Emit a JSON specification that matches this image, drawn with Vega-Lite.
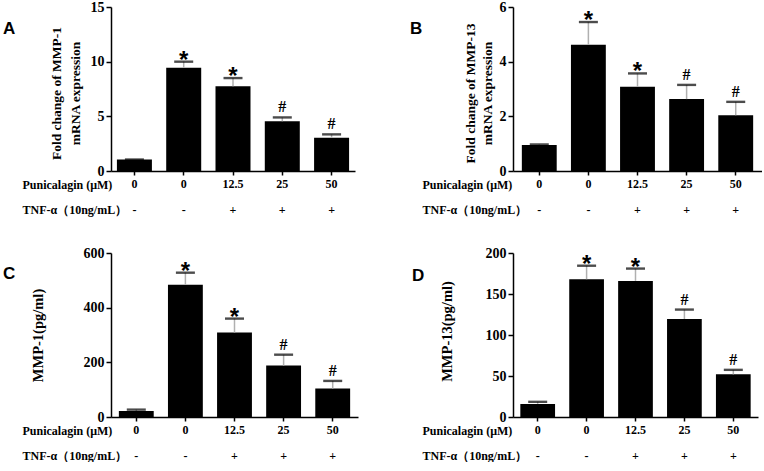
{
  "$schema": "https://vega.github.io/schema/vega-lite/v6.json",
  "background": "white",
  "padding": {"left": 3, "top": 0, "right": 0, "bottom": 0},
  "data": {"values": [
    {"panel": "A", "cond": "1|0|-", "value": 1.05, "hi": 1.05, "sig": ""},
    {"panel": "A", "cond": "2|0|-", "value": 9.45, "hi": 10.0, "sig": "*"},
    {"panel": "A", "cond": "3|12.5|+", "value": 7.75, "hi": 8.5, "sig": "*"},
    {"panel": "A", "cond": "4|25|+", "value": 4.55, "hi": 4.9, "sig": "#"},
    {"panel": "A", "cond": "5|50|+", "value": 3.05, "hi": 3.35, "sig": "#"},
    {"panel": "B", "cond": "1|0|-", "value": 0.95, "hi": 0.97, "sig": ""},
    {"panel": "B", "cond": "2|0|-", "value": 4.62, "hi": 5.45, "sig": "*"},
    {"panel": "B", "cond": "3|12.5|+", "value": 3.08, "hi": 3.57, "sig": "*"},
    {"panel": "B", "cond": "4|25|+", "value": 2.63, "hi": 3.15, "sig": "#"},
    {"panel": "B", "cond": "5|50|+", "value": 2.04, "hi": 2.53, "sig": "#"},
    {"panel": "C", "cond": "1|0|-", "value": 22, "hi": 27, "sig": ""},
    {"panel": "C", "cond": "2|0|-", "value": 484, "hi": 528, "sig": "*"},
    {"panel": "C", "cond": "3|12.5|+", "value": 309, "hi": 360, "sig": "*"},
    {"panel": "C", "cond": "4|25|+", "value": 188, "hi": 228, "sig": "#"},
    {"panel": "C", "cond": "5|50|+", "value": 104, "hi": 132, "sig": "#"},
    {"panel": "D", "cond": "1|0|-", "value": 16, "hi": 18.5, "sig": ""},
    {"panel": "D", "cond": "2|0|-", "value": 168, "hi": 184.5, "sig": "*"},
    {"panel": "D", "cond": "3|12.5|+", "value": 166, "hi": 181, "sig": "*"},
    {"panel": "D", "cond": "4|25|+", "value": 119.5, "hi": 131, "sig": "#"},
    {"panel": "D", "cond": "5|50|+", "value": 52, "hi": 57.5, "sig": "#"}
  ]},
  "config": {
    "view": {"stroke": null},
    "font": "Liberation Serif",
    "axis": {
      "grid": false,
      "domainColor": "black",
      "domainWidth": 1.5,
      "tickColor": "black",
      "tickWidth": 1.5,
      "labelFont": "Liberation Serif",
      "labelFontWeight": "bold",
      "labelColor": "black",
      "titleFont": "Liberation Serif",
      "titleFontWeight": "bold",
      "titleColor": "black"
    },
    "axisX": {
      "labelAngle": 0,
      "tickSize": 4,
      "labelPadding": 3.5,
      "labelFontSize": 12,
      "labelLineHeight": 25.5,
      "titleFontSize": 12,
      "titleAlign": "left",
      "titleX": -89,
      "titleY": 8,
      "titleBaseline": "top",
      "titleLineHeight": 25.5
    },
    "axisY": {"tickSize": 5, "labelFontSize": 14, "labelPadding": 2, "titleBaseline": "bottom", "titleAngle": -90, "titleAlign": "center"},
    "title": {"font": "Liberation Sans", "fontSize": 17, "fontWeight": "bold", "anchor": "start", "frame": "group", "offset": 0, "baseline": "alphabetic", "color": "black"}
  },
  "columns": 2,
  "spacing": {"row": 82, "column": 155},
  "bounds": "flush",
  "concat": [
    {
      "width": 244, "height": 164,
      "title": {"text": "A", "dx": -108, "dy": 41.5},
      "transform": [{"filter": "datum.panel == 'A'"}],
      "encoding": {"x": {"field": "cond", "type": "nominal", "scale": {"paddingInner": 0.29, "paddingOuter": 0.12}, "axis": {"title": ["Punicalagin (μM)", "TNF-α（10ng/mL）"], "labelExpr": "slice(split(datum.value, '|'), 1)"}}},
      "layer": [
        {"mark": {"type": "bar", "color": "black"}, "encoding": {"y": {"field": "value", "type": "quantitative", "scale": {"domain": [0, 15], "nice": false}, "axis": {"values": [0, 5, 10, 15], "title": ["Fold change of MMP-1", "mRNA expression"], "titleFontSize": 13.5, "titleLineHeight": 18.5, "titleX": -47.5, "titleY": 86}}}},
        {"mark": {"type": "rule", "color": "#b0b0b0", "strokeWidth": 1.5}, "encoding": {"y": {"field": "value", "type": "quantitative", "scale": {"domain": [0, 15], "nice": false}}, "y2": {"field": "hi"}}},
        {"mark": {"type": "tick", "color": "black", "size": 19, "thickness": 2.4}, "encoding": {"y": {"field": "hi", "type": "quantitative", "scale": {"domain": [0, 15], "nice": false}}}},
        {"mark": {"type": "text", "font": "Liberation Sans", "fontWeight": "bold", "fontSize": 24, "baseline": "alphabetic", "dy": 6, "color": "black"}, "encoding": {"y": {"field": "hi", "type": "quantitative", "scale": {"domain": [0, 15], "nice": false}}, "text": {"condition": {"test": "datum.sig == '*'", "field": "sig"}, "value": ""}}},
        {"mark": {"type": "text", "font": "Liberation Serif", "fontWeight": "bold", "fontSize": 16, "baseline": "alphabetic", "dy": -5, "color": "black"}, "encoding": {"y": {"field": "hi", "type": "quantitative", "scale": {"domain": [0, 15], "nice": false}}, "text": {"condition": {"test": "datum.sig == '#'", "field": "sig"}, "value": ""}}}
      ]
    },
    {
      "width": 249, "height": 164,
      "title": {"text": "B", "dx": -103, "dy": 41.5},
      "transform": [{"filter": "datum.panel == 'B'"}],
      "encoding": {"x": {"field": "cond", "type": "nominal", "scale": {"paddingInner": 0.29, "paddingOuter": 0.18}, "axis": {"title": ["Punicalagin (μM)", "TNF-α（10ng/mL）"], "titleX": -91, "labelExpr": "slice(split(datum.value, '|'), 1)"}}},
      "layer": [
        {"mark": {"type": "bar", "color": "black"}, "encoding": {"y": {"field": "value", "type": "quantitative", "scale": {"domain": [0, 6], "nice": false}, "axis": {"values": [0, 2, 4, 6], "title": ["Fold change of MMP-13", "mRNA expression"], "titleFontSize": 13.5, "titleLineHeight": 17, "titleX": -36, "titleY": 86}}}},
        {"mark": {"type": "rule", "color": "#b0b0b0", "strokeWidth": 1.5}, "encoding": {"y": {"field": "value", "type": "quantitative", "scale": {"domain": [0, 6], "nice": false}}, "y2": {"field": "hi"}}},
        {"mark": {"type": "tick", "color": "black", "size": 19, "thickness": 2.4}, "encoding": {"y": {"field": "hi", "type": "quantitative", "scale": {"domain": [0, 6], "nice": false}}}},
        {"mark": {"type": "text", "font": "Liberation Sans", "fontWeight": "bold", "fontSize": 24, "baseline": "alphabetic", "dy": 6, "color": "black"}, "encoding": {"y": {"field": "hi", "type": "quantitative", "scale": {"domain": [0, 6], "nice": false}}, "text": {"condition": {"test": "datum.sig == '*'", "field": "sig"}, "value": ""}}},
        {"mark": {"type": "text", "font": "Liberation Serif", "fontWeight": "bold", "fontSize": 16, "baseline": "alphabetic", "dy": -5, "color": "black"}, "encoding": {"y": {"field": "hi", "type": "quantitative", "scale": {"domain": [0, 6], "nice": false}}, "text": {"condition": {"test": "datum.sig == '#'", "field": "sig"}, "value": ""}}}
      ]
    },
    {
      "width": 247, "height": 164,
      "title": {"text": "C", "dx": -108, "dy": 40.5},
      "transform": [{"filter": "datum.panel == 'C'"}],
      "encoding": {"x": {"field": "cond", "type": "nominal", "scale": {"paddingInner": 0.29, "paddingOuter": 0.16}, "axis": {"title": ["Punicalagin (μM)", "TNF-α（10ng/mL）"], "labelExpr": "slice(split(datum.value, '|'), 1)"}}},
      "layer": [
        {"mark": {"type": "bar", "color": "black"}, "encoding": {"y": {"field": "value", "type": "quantitative", "scale": {"domain": [0, 600], "nice": false}, "axis": {"values": [0, 200, 400, 600], "title": "MMP-1(pg/ml)", "titleFontSize": 14.5, "titleX": -66, "titleY": 82}}}},
        {"mark": {"type": "rule", "color": "#b0b0b0", "strokeWidth": 1.5}, "encoding": {"y": {"field": "value", "type": "quantitative", "scale": {"domain": [0, 600], "nice": false}}, "y2": {"field": "hi"}}},
        {"mark": {"type": "tick", "color": "black", "size": 19, "thickness": 2.4}, "encoding": {"y": {"field": "hi", "type": "quantitative", "scale": {"domain": [0, 600], "nice": false}}}},
        {"mark": {"type": "text", "font": "Liberation Sans", "fontWeight": "bold", "fontSize": 24, "baseline": "alphabetic", "dy": 6, "color": "black"}, "encoding": {"y": {"field": "hi", "type": "quantitative", "scale": {"domain": [0, 600], "nice": false}}, "text": {"condition": {"test": "datum.sig == '*'", "field": "sig"}, "value": ""}}},
        {"mark": {"type": "text", "font": "Liberation Serif", "fontWeight": "bold", "fontSize": 16, "baseline": "alphabetic", "dy": -5, "color": "black"}, "encoding": {"y": {"field": "hi", "type": "quantitative", "scale": {"domain": [0, 600], "nice": false}}, "text": {"condition": {"test": "datum.sig == '#'", "field": "sig"}, "value": ""}}}
      ]
    },
    {
      "width": 245, "height": 164,
      "title": {"text": "D", "dx": -101, "dy": 42.5},
      "transform": [{"filter": "datum.panel == 'D'"}],
      "encoding": {"x": {"field": "cond", "type": "nominal", "scale": {"paddingInner": 0.29, "paddingOuter": 0.15}, "axis": {"title": ["Punicalagin (μM)", "TNF-α（10ng/mL）"], "titleX": -91, "labelExpr": "slice(split(datum.value, '|'), 1)"}}},
      "layer": [
        {"mark": {"type": "bar", "color": "black"}, "encoding": {"y": {"field": "value", "type": "quantitative", "scale": {"domain": [0, 200], "nice": false}, "axis": {"values": [0, 50, 100, 150, 200], "title": "MMP-13(pg/ml)", "titleFontSize": 14.5, "titleX": -59, "titleY": 78}}}},
        {"mark": {"type": "rule", "color": "#b0b0b0", "strokeWidth": 1.5}, "encoding": {"y": {"field": "value", "type": "quantitative", "scale": {"domain": [0, 200], "nice": false}}, "y2": {"field": "hi"}}},
        {"mark": {"type": "tick", "color": "black", "size": 19, "thickness": 2.4}, "encoding": {"y": {"field": "hi", "type": "quantitative", "scale": {"domain": [0, 200], "nice": false}}}},
        {"mark": {"type": "text", "font": "Liberation Sans", "fontWeight": "bold", "fontSize": 24, "baseline": "alphabetic", "dy": 6, "color": "black"}, "encoding": {"y": {"field": "hi", "type": "quantitative", "scale": {"domain": [0, 200], "nice": false}}, "text": {"condition": {"test": "datum.sig == '*'", "field": "sig"}, "value": ""}}},
        {"mark": {"type": "text", "font": "Liberation Serif", "fontWeight": "bold", "fontSize": 16, "baseline": "alphabetic", "dy": -5, "color": "black"}, "encoding": {"y": {"field": "hi", "type": "quantitative", "scale": {"domain": [0, 200], "nice": false}}, "text": {"condition": {"test": "datum.sig == '#'", "field": "sig"}, "value": ""}}}
      ]
    }
  ]
}
